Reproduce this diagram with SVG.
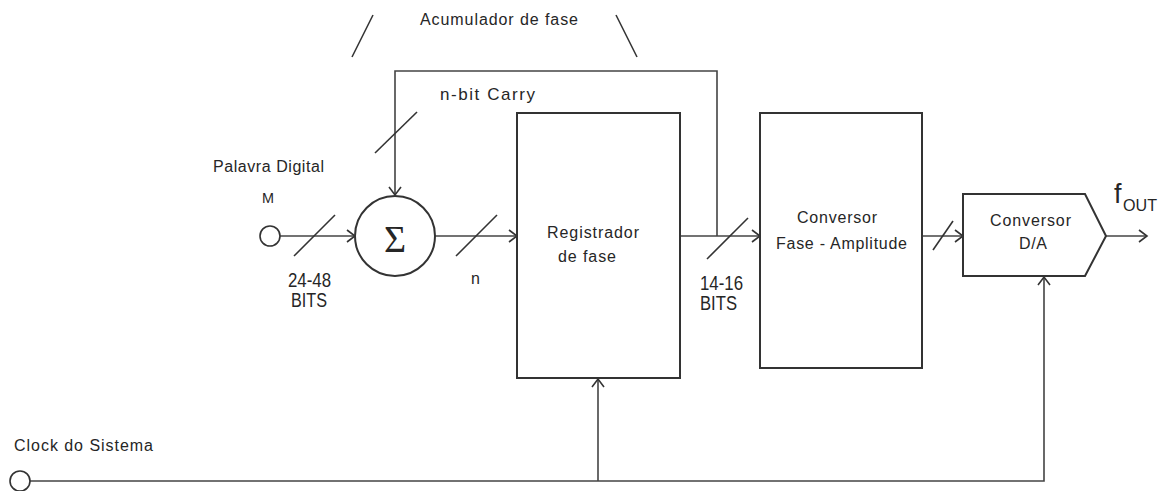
<svg xmlns="http://www.w3.org/2000/svg" width="1168" height="491" viewBox="0 0 1168 491">
<style>
text{font-family:"Liberation Sans",Arial,sans-serif;fill:#262626;font-size:16px}
.box{fill:#fff;stroke:#333;stroke-width:2}
.ln{fill:none;stroke:#444;stroke-width:1.6}
.sl{fill:none;stroke:#333;stroke-width:1.6}
.nar{font-size:20px}
</style>
<defs>
<marker id="ah" markerUnits="userSpaceOnUse" markerWidth="12" markerHeight="14" refX="10" refY="7" orient="auto">
<path d="M2,1 L10,7 L2,13" fill="none" stroke="#333" stroke-width="1.6"/>
</marker>
</defs>
<g id="title">
<text x="420" y="25" textLength="158" lengthAdjust="spacing">Acumulador de fase</text>
<line class="sl" x1="352" y1="57" x2="373" y2="15"/>
<line class="sl" x1="616" y1="15" x2="637" y2="57"/>
</g>
<g id="connectors">
<path class="ln" d="M717,236 V71 H395 V195" marker-end="url(#ah)"/>
<line class="sl" x1="375" y1="153" x2="417" y2="112"/>
<line class="ln" x1="280" y1="236" x2="355" y2="236" marker-end="url(#ah)"/>
<line class="sl" x1="294" y1="256" x2="335" y2="215"/>
<line class="ln" x1="435" y1="236" x2="517" y2="236" marker-end="url(#ah)"/>
<line class="sl" x1="456" y1="256" x2="497" y2="215"/>
<line class="ln" x1="680" y1="236" x2="760" y2="236" marker-end="url(#ah)"/>
<line class="sl" x1="707" y1="259" x2="748" y2="218"/>
<line class="ln" x1="922" y1="236" x2="963" y2="236" marker-end="url(#ah)"/>
<line class="sl" x1="933" y1="250" x2="953" y2="221"/>
<line class="ln" x1="1106" y1="236" x2="1147" y2="236" marker-end="url(#ah)"/>
<path class="ln" d="M30,481 H1044 V277" marker-end="url(#ah)"/>
<line class="ln" x1="598" y1="481" x2="598" y2="379" marker-end="url(#ah)"/>
</g>
<g id="input">
<circle cx="270" cy="236" r="10" fill="#fff" stroke="#333" stroke-width="1.6"/>
<text x="213" y="172" textLength="111" lengthAdjust="spacing">Palavra Digital</text>
<text x="262" y="203" style="font-size:15px" textLength="12" lengthAdjust="spacingAndGlyphs">M</text>
<text class="nar" x="288" y="287" textLength="43" lengthAdjust="spacingAndGlyphs">24-48</text>
<text class="nar" x="291" y="307" textLength="36" lengthAdjust="spacingAndGlyphs">BITS</text>
</g>
<g id="carry">
<text x="440" y="100" style="font-size:17px" textLength="95" lengthAdjust="spacing">n-bit Carry</text>
</g>
<g id="sigma">
<circle cx="395" cy="236" r="40" fill="#fff" stroke="#333" stroke-width="2"/>
<text x="395" y="252" text-anchor="middle" style="font-family:'Liberation Serif','Times New Roman',serif;font-size:38px">Σ</text>
</g>
<text x="471" y="284" style="font-size:16px">n</text>
<g id="registrador">
<rect class="box" x="517" y="113" width="163" height="265"/>
<text x="547" y="238" textLength="92" lengthAdjust="spacing">Registrador</text>
<text x="558" y="262" textLength="58" lengthAdjust="spacing">de fase</text>
</g>
<g id="bits14">
<text class="nar" x="700" y="290" textLength="43" lengthAdjust="spacingAndGlyphs">14-16</text>
<text class="nar" x="700" y="310" textLength="37" lengthAdjust="spacingAndGlyphs">BITS</text>
</g>
<g id="conversor">
<rect class="box" x="760" y="113" width="162" height="255"/>
<text x="797" y="223" textLength="80" lengthAdjust="spacing">Conversor</text>
<text x="776" y="249" textLength="131" lengthAdjust="spacing">Fase - Amplitude</text>
</g>
<g id="da">
<polygon class="box" points="963,194 1085,194 1106,236 1085,276 963,276"/>
<text x="990" y="226" textLength="81" lengthAdjust="spacing">Conversor</text>
<text x="1019" y="249" textLength="28" lengthAdjust="spacing">D/A</text>
</g>
<g id="fout">
<text x="1114" y="203" style="font-size:27px">f</text>
<text x="1123" y="211" style="font-size:17px" textLength="34" lengthAdjust="spacingAndGlyphs">OUT</text>
</g>
<g id="clock">
<text x="14" y="451" textLength="139" lengthAdjust="spacing">Clock do Sistema</text>
<circle cx="20" cy="481" r="10" fill="#fff" stroke="#333" stroke-width="1.6"/>
</g>
</svg>
